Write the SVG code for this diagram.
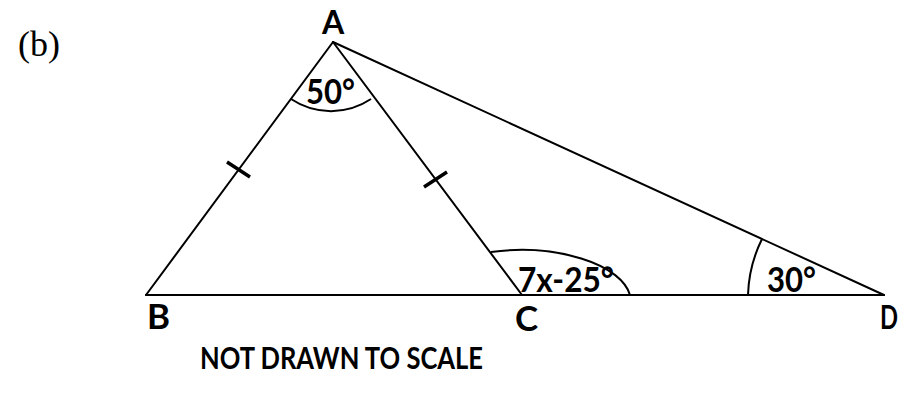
<svg xmlns="http://www.w3.org/2000/svg" width="903" height="394" viewBox="0 0 903 394">
<style>
.ln{stroke:#000;stroke-width:2;fill:none;stroke-linecap:round}
.tk{stroke:#000;stroke-width:3.5;fill:none}
.arc{stroke:#000;stroke-width:2;fill:none}
.lb{font-family:Lato,"Open Sans",sans-serif;font-weight:bold;font-size:35px;fill:#000}
.sm{font-size:32px}
.ser{font-family:"Liberation Serif","Times New Roman",serif;font-size:36px;fill:#000}
</style>
<rect width="903" height="394" fill="#fff"/>
<text class="ser" x="18" y="56">(b)</text>
<g id="connectors">
<line class="ln" x1="333" y1="42" x2="146" y2="295"/>
<line class="ln" x1="333" y1="42" x2="522" y2="295"/>
<line class="ln" x1="333" y1="42" x2="884" y2="295"/>
<line class="ln" x1="146" y1="295" x2="884" y2="295"/>
<line class="tk" x1="227" y1="162" x2="250" y2="177"/>
<line class="tk" x1="424" y1="187" x2="447" y2="172"/>
</g>
<g id="angleA">
<path class="arc" d="M291 99 A72 72 0 0 0 371 99"/>
<text class="lb" x="306" y="104" textLength="49" lengthAdjust="spacingAndGlyphs">50°</text>
</g>
<g id="angleC">
<path class="arc" d="M491 252 A110 52 0 0 1 630 295"/>
<text class="lb" x="518" y="292" textLength="96" lengthAdjust="spacingAndGlyphs">7x-25°</text>
</g>
<g id="angleD">
<path class="arc" d="M762 239 A135 135 0 0 0 748 295"/>
<text class="lb" x="767" y="292" textLength="49" lengthAdjust="spacingAndGlyphs">30°</text>
</g>
<g id="A"><text class="lb sm" x="333" y="34" text-anchor="middle">A</text></g>
<g id="B"><text class="lb" x="147" y="329">B</text></g>
<g id="C"><text class="lb" x="515" y="331">C</text></g>
<g id="D"><text class="lb sm" x="880" y="329" textLength="18" lengthAdjust="spacingAndGlyphs">D</text></g>
<text class="lb" x="200" y="369" style="font-size:30px" textLength="283" lengthAdjust="spacingAndGlyphs">NOT DRAWN TO SCALE</text>
</svg>
